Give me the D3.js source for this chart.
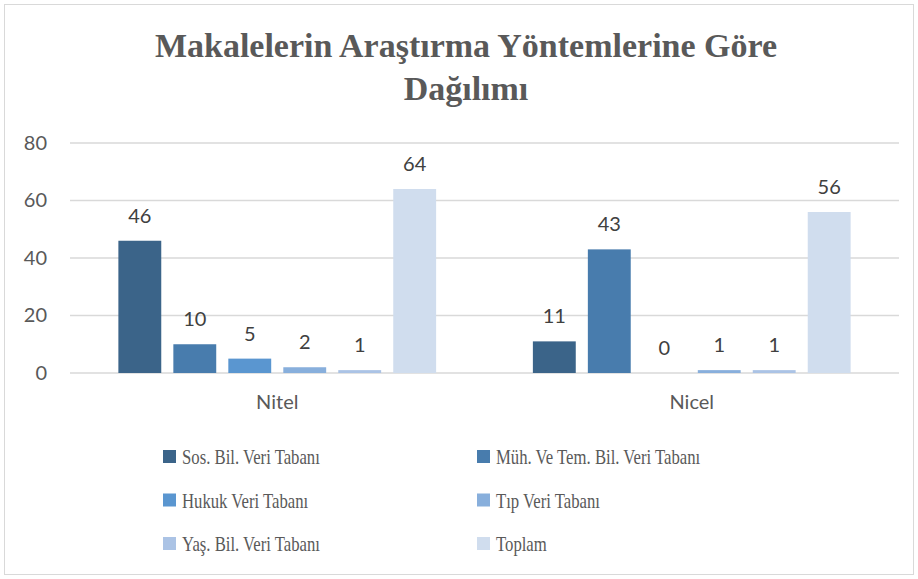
<!DOCTYPE html>
<html>
<head>
<meta charset="utf-8">
<script src="https://cdn.jsdelivr.net/npm/d3@7"></script>
<style>
  body { margin: 0; background: #fff; }
  svg { display: block; }
</style>
</head>
<body>
<svg id="chart" width="918" height="579"></svg>
<script>
// data
const categories = ["Nitel", "Nicel"];
const seriesNames = ["Sos. Bil. Veri Tabanı", "Müh. Ve Tem. Bil. Veri Tabanı", "Hukuk Veri Tabanı",
                     "Tıp Veri Tabanı", "Yaş. Bil. Veri Tabanı", "Toplam"];
const nitelValues = [46, 10, 5, 2, 1, 64];
const nicelValues = [11, 43, 0, 1, 1, 56];
const yTicks = [0, 20, 40, 60, 80];
const colors = ["#3b6489", "#487cad", "#5a96d0", "#88afdc", "#abc3e5", "#d0ddee"];

const rows = [nitelValues, nicelValues];

const svg = d3.select("#chart");
const margin = {left: 70, right: 19, top: 143, bottom: 206};
const width = 918, height = 579;
const plotW = width - margin.left - margin.right;
const plotH = height - margin.top - margin.bottom;
const sansFont = "Lato, 'Open Sans', 'Liberation Sans', sans-serif";
const serifFont = "'Liberation Serif', 'DejaVu Serif', serif";

// chart border
svg.append("rect")
    .attr("x", 4.5).attr("y", 4.5)
    .attr("width", width - 9).attr("height", height - 9)
    .attr("fill", "#fff").attr("stroke", "#d9d9d9").attr("stroke-width", 1);

// title
const titleX = 466;
const title = svg.append("text")
    .attr("text-anchor", "middle")
    .attr("font-family", serifFont)
    .attr("font-weight", "bold")
    .attr("font-size", 34)
    .attr("fill", "#595959");
title.append("tspan").attr("x", titleX).attr("y", 57).text("Makalelerin Araştırma Yöntemlerine Göre");
title.append("tspan").attr("x", titleX).attr("y", 100).text("Dağılımı");

const g = svg.append("g")
    .attr("transform", "translate(" + margin.left + "," + margin.top + ")");

const y = d3.scaleLinear().domain([0, 80]).range([plotH, 0]);
const x0 = d3.scaleBand().domain(categories).range([0, plotW]);
const x1 = d3.scaleBand().domain(seriesNames).range([0, x0.bandwidth()])
    .paddingInner(0.22).paddingOuter(0.88);

// grid
g.selectAll(".grid")
    .data(yTicks)
    .enter().append("line")
    .attr("x1", 0).attr("x2", plotW)
    .attr("y1", d => y(d)).attr("y2", d => y(d))
    .attr("stroke", "#d9d9d9").attr("stroke-width", 1.5);

// y axis labels
const yAxis = g.append("g").call(d3.axisLeft(y).tickValues(yTicks).tickSize(0).tickPadding(23));
yAxis.select(".domain").remove();
yAxis.selectAll("text")
    .attr("font-family", sansFont)
    .attr("font-size", 20).attr("fill", "#595959");

// x axis labels
const xAxis = g.append("g")
    .attr("transform", "translate(0," + plotH + ")")
    .call(d3.axisBottom(x0).tickSize(0).tickPadding(22));
xAxis.select(".domain").remove();
xAxis.selectAll("text")
    .attr("font-family", sansFont)
    .attr("font-size", 20).attr("fill", "#595959");

// bars
const groups = g.selectAll(".group")
    .data(rows)
    .enter().append("g")
    .attr("transform", (d, i) => "translate(" + x0(categories[i]) + ",0)");

groups.selectAll("rect")
    .data(d => d.map((v, j) => ({name: seriesNames[j], value: v, color: colors[j]})))
    .enter().append("rect")
    .attr("x", d => x1(d.name))
    .attr("width", x1.bandwidth())
    .attr("y", d => y(d.value))
    .attr("height", d => plotH - y(d.value))
    .attr("fill", d => d.color);

groups.selectAll(".lbl")
    .data(d => d.map((v, j) => ({name: seriesNames[j], value: v})))
    .enter().append("text")
    .attr("x", d => x1(d.name) + x1.bandwidth() / 2)
    .attr("y", d => y(d.value) - 18)
    .attr("text-anchor", "middle")
    .attr("font-family", sansFont)
    .attr("font-size", 20).attr("fill", "#404040")
    .text(d => d.value);

// legend
const legend = svg.append("g");
const leg = legend.selectAll("g")
    .data(seriesNames)
    .enter().append("g")
    .attr("transform", (d, i) => "translate(" + (i % 2 === 0 ? 163 : 477) + "," + (456.5 + Math.floor(i / 2) * 43.5) + ")");
leg.append("rect")
    .attr("x", 0).attr("y", -6.5)
    .attr("width", 13).attr("height", 13)
    .attr("fill", (d, i) => colors[i]);
leg.append("text")
    .attr("transform", "translate(19,0) scale(0.76,1)")
    .attr("dy", "0.35em")
    .attr("font-family", serifFont)
    .attr("font-size", 22).attr("fill", "#595959")
    .text(d => d);
</script>
</body>
</html>
